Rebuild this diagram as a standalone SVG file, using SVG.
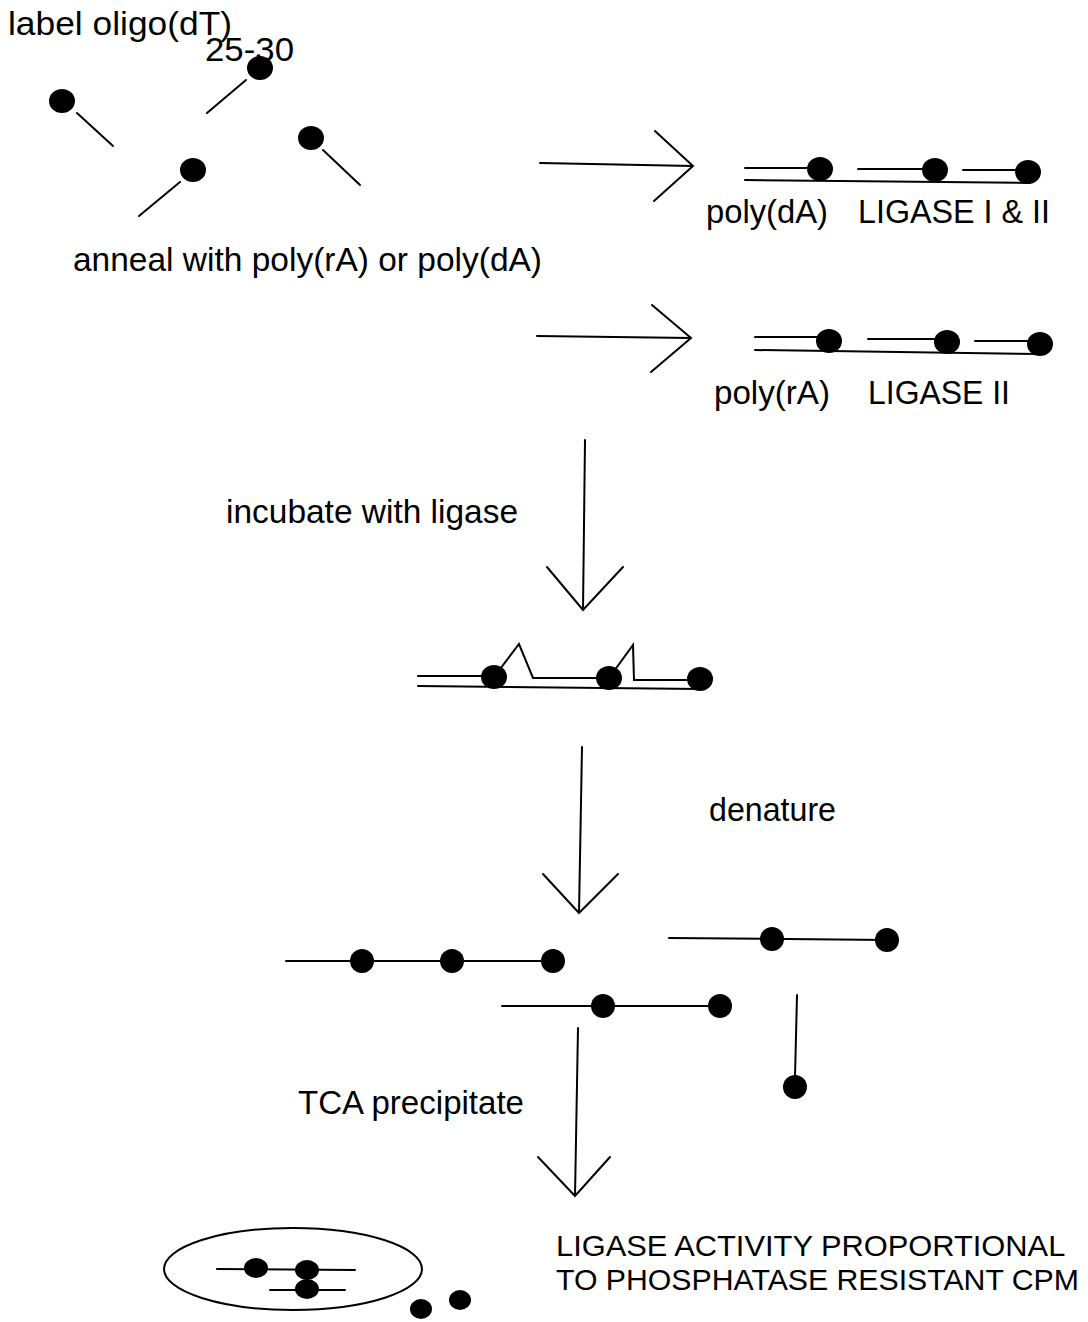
<svg xmlns="http://www.w3.org/2000/svg" width="1088" height="1322" viewBox="0 0 1088 1322">
<style>
.t{font-family:"Liberation Sans",Arial,Helvetica,sans-serif;font-size:33px;fill:#000}
.c{font-family:"Liberation Sans",Arial,Helvetica,sans-serif;font-size:30px;fill:#000}
.ln{stroke:#000;stroke-width:2;fill:none;stroke-linecap:round;stroke-linejoin:miter}
.d{fill:#000}
</style>
<rect width="1088" height="1322" fill="#fff"/>
<g id="oligos">
<text class="t" x="8" y="35" textLength="224" lengthAdjust="spacingAndGlyphs">label oligo(dT)</text>
<text class="t" x="205" y="61" textLength="89" lengthAdjust="spacingAndGlyphs">25-30</text>
<ellipse class="d" cx="62" cy="101" rx="13" ry="12"/>
<line class="ln" x1="77" y1="113" x2="113" y2="146"/>
<ellipse class="d" cx="260" cy="68" rx="13" ry="12"/>
<line class="ln" x1="246" y1="80" x2="207" y2="113"/>
<ellipse class="d" cx="193" cy="170" rx="13" ry="12"/>
<line class="ln" x1="180" y1="182" x2="139" y2="216"/>
<ellipse class="d" cx="311" cy="138" rx="13" ry="12"/>
<line class="ln" x1="323" y1="150" x2="360" y2="185"/>
<text class="t" x="73" y="271" textLength="469" lengthAdjust="spacingAndGlyphs">anneal with poly(rA) or poly(dA)</text>
</g>
<g id="hybrid-dA">
<path class="ln" d="M745 168 H810 M858 169 H925 M963 170 H1018"/>
<path class="ln" d="M745 180 L1030 183"/>
<ellipse class="d" cx="820" cy="169" rx="13" ry="12"/>
<ellipse class="d" cx="935" cy="170" rx="13" ry="12"/>
<ellipse class="d" cx="1028" cy="172" rx="13" ry="12"/>
<text class="t" x="706" y="223" textLength="122" lengthAdjust="spacingAndGlyphs">poly(dA)</text>
<text class="t" x="858" y="223" textLength="192" lengthAdjust="spacingAndGlyphs">LIGASE I &amp; II</text>
</g>
<g id="hybrid-rA">
<path class="ln" d="M755 337 H820 M868 339 H937 M975 341 H1030"/>
<path class="ln" d="M755 350 L1040 354"/>
<ellipse class="d" cx="829" cy="341" rx="13" ry="12"/>
<ellipse class="d" cx="947" cy="342" rx="13" ry="12"/>
<ellipse class="d" cx="1040" cy="344" rx="13" ry="12"/>
<text class="t" x="714" y="404" textLength="116" lengthAdjust="spacingAndGlyphs">poly(rA)</text>
<text class="t" x="868" y="404" textLength="142" lengthAdjust="spacingAndGlyphs">LIGASE II</text>
</g>
<g id="step-incubate">
<text class="t" x="226" y="523" textLength="292" lengthAdjust="spacingAndGlyphs">incubate with ligase</text>
</g>
<g id="ligated">
<path class="ln" d="M418 676 H485 M494 677 L519 644 L533 678 H600 M609 678 L633 645 L634 680 H690"/>
<path class="ln" d="M418 686 L700 689"/>
<ellipse class="d" cx="494" cy="677" rx="13" ry="12"/>
<ellipse class="d" cx="609" cy="678" rx="13" ry="12"/>
<ellipse class="d" cx="700" cy="679" rx="13" ry="12"/>
</g>
<g id="step-denature">
<text class="t" x="709" y="821" textLength="127" lengthAdjust="spacingAndGlyphs">denature</text>
</g>
<g id="denatured">
<line class="ln" x1="286" y1="961" x2="553" y2="961"/>
<ellipse class="d" cx="362" cy="961" rx="12" ry="12"/>
<ellipse class="d" cx="452" cy="961" rx="12" ry="12"/>
<ellipse class="d" cx="553" cy="961" rx="12" ry="12"/>
<line class="ln" x1="669" y1="938" x2="887" y2="940"/>
<ellipse class="d" cx="772" cy="939" rx="12" ry="12"/>
<ellipse class="d" cx="887" cy="940" rx="12" ry="12"/>
<line class="ln" x1="502" y1="1006" x2="720" y2="1006"/>
<ellipse class="d" cx="603" cy="1006" rx="12" ry="12"/>
<ellipse class="d" cx="720" cy="1006" rx="12" ry="12"/>
<line class="ln" x1="797" y1="995" x2="795" y2="1077"/>
<ellipse class="d" cx="795" cy="1087" rx="12" ry="12"/>
</g>
<g id="step-tca">
<text class="t" x="298" y="1114" textLength="226" lengthAdjust="spacingAndGlyphs">TCA precipitate</text>
</g>
<g id="precipitate">
<ellipse class="ln" cx="293" cy="1269" rx="129" ry="41"/>
<line class="ln" x1="217" y1="1269" x2="355" y2="1270"/>
<line class="ln" x1="270" y1="1290" x2="345" y2="1290"/>
<ellipse class="d" cx="256" cy="1268" rx="12" ry="10"/>
<ellipse class="d" cx="307" cy="1270" rx="12" ry="10"/>
<ellipse class="d" cx="307" cy="1289" rx="12" ry="10"/>
<ellipse class="d" cx="421" cy="1309" rx="11" ry="10"/>
<ellipse class="d" cx="460" cy="1300" rx="11" ry="10"/>
</g>
<g id="result">
<text class="c" transform="translate(556,1256) scale(1.028,1)" x="0" y="0">LIGASE ACTIVITY PROPORTIONAL</text>
<text class="c" transform="translate(556,1290) scale(1.008,1)" x="0" y="0">TO PHOSPHATASE RESISTANT CPM</text>
</g>
<g id="connectors">
<path class="ln" d="M540 163 L693 166 M655 131 L693 166 L654 201"/>
<path class="ln" d="M537 336 L691 338 M652 305 L691 338 L651 372"/>
<path class="ln" d="M585 440 L583 610 M547 567 L583 610 L623 567"/>
<path class="ln" d="M582 747 L579 913 M543 874 L579 913 L618 874"/>
<path class="ln" d="M578 1028 L575 1196 M538 1157 L575 1196 L610 1157"/>
</g>
</svg>
